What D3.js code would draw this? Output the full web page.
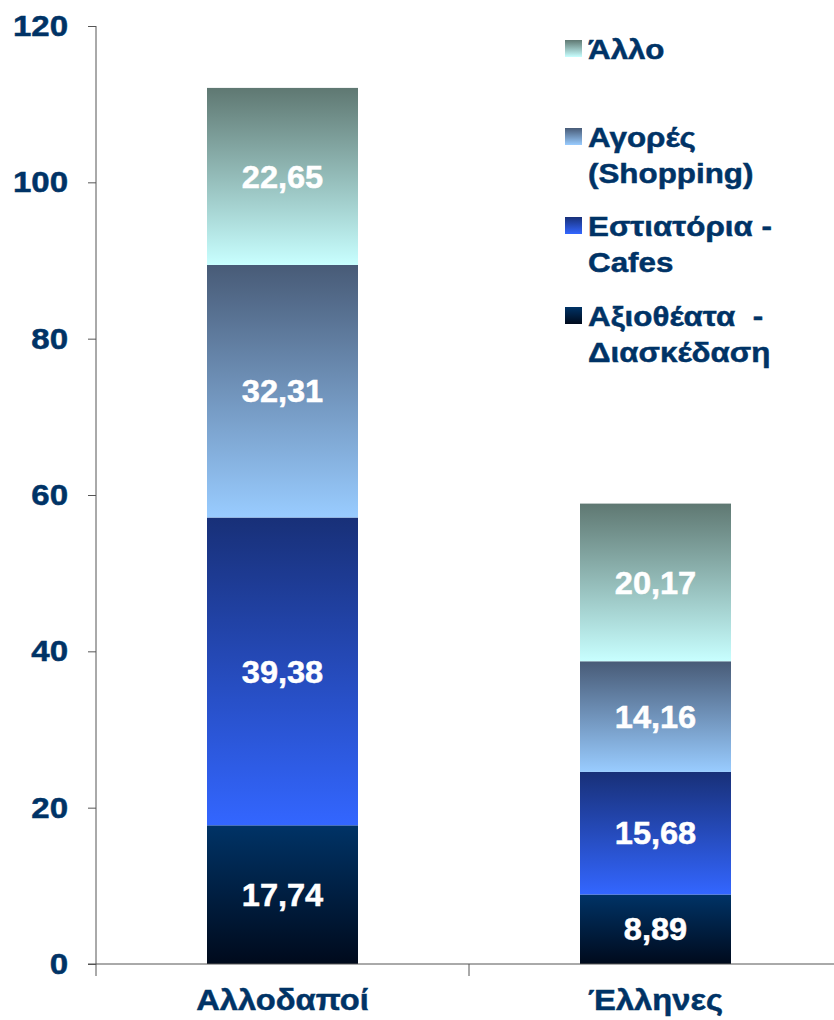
<!DOCTYPE html>
<html><head><meta charset="utf-8">
<script src="https://cdn.jsdelivr.net/npm/d3@7"></script>
<style>body{margin:0;background:#fff;} text{font-family:"Liberation Sans",Arial,sans-serif;font-weight:bold;}</style>
</head><body>
<svg id="c" width="834" height="1020"></svg>
<script>
const categories = ["Αλλοδαποί", "Έλληνες"];
const seriesNames = ["Αξιοθέατα  - Διασκέδαση", "Εστιατόρια - Cafes", "Αγορές (Shopping)", "Άλλο"];
const seriesValues = [
  [17.74, 8.89],
  [39.38, 15.68],
  [32.31, 14.16],
  [22.65, 20.17]
];
const legendLines = [["Αξιοθέατα  -", "Διασκέδαση"], ["Εστιατόρια -", "Cafes"], ["Αγορές", "(Shopping)"], ["Άλλο"]];
const yTicks = [0, 20, 40, 60, 80, 100, 120];
const gradTop = ["#003366", "#183078", "#485b77", "#5f7872"];
const gradBottom = ["#000a1c", "#3366ff", "#99ccff", "#c8ffff"];

const svg = d3.select("#c");
const textColor = "#003366";
const x0 = 96, x1 = 842, yTop = 26, yBot = 964;
const y = d3.scaleLinear().domain([0, 120]).range([yBot, yTop]);
const x = d3.scaleBand().domain(categories).range([x0, x1]).paddingInner(0).paddingOuter(0);
const barW = 151;

// text placed with horizontal stretch
function stretchText(sel, px, py, sx, str) {
  return sel.append("text")
    .attr("transform", `translate(${px},${py}) scale(${sx},1)`)
    .text(str);
}

const defs = svg.append("defs");
seriesNames.forEach((s, i) => {
  const g = defs.append("linearGradient").attr("id", "g" + i)
    .attr("x1", 0).attr("y1", 0).attr("x2", 0).attr("y2", 1);
  g.append("stop").attr("offset", "0%").attr("stop-color", gradTop[i]);
  g.append("stop").attr("offset", "100%").attr("stop-color", gradBottom[i]);
});

const rows = categories.map((c, j) => {
  const o = {cat: c};
  seriesNames.forEach((s, i) => o[s] = seriesValues[i][j]);
  return o;
});
const stack = d3.stack().keys(seriesNames)(rows);

stack.forEach((layer, i) => {
  const g = svg.append("g");
  layer.forEach(d => {
    const cx = x(d.data.cat) + x.bandwidth() / 2;
    g.append("rect")
      .attr("x", cx - barW / 2).attr("width", barW)
      .attr("y", y(d[1])).attr("height", y(d[0]) - y(d[1]))
      .attr("fill", "url(#g" + i + ")");
    stretchText(g, cx, (y(d[0]) + y(d[1])) / 2, 1.05, d3.format(".2f")(d[1] - d[0]).replace(".", ","))
      .attr("dy", "0.36em")
      .attr("text-anchor", "middle").attr("fill", "#fff")
      .attr("stroke", "#fff").attr("stroke-width", 0.5)
      .attr("font-size", 31);
  });
});

// y axis
const yAxis = d3.axisLeft(y).tickValues(yTicks).tickSize(8).tickPadding(20).tickFormat(d3.format("d"));
const ya = svg.append("g").attr("transform", `translate(${x0},0)`).call(yAxis);
ya.select(".domain").attr("stroke", "#555").attr("d", `M0,${yTop}V${yBot}`);
ya.selectAll(".tick line").attr("stroke", "#555");
ya.selectAll(".tick text").each(function() {
  const t = d3.select(this);
  t.attr("x", null).attr("transform", `translate(-28,0) scale(1.1,1)`);
}).attr("fill", textColor).attr("font-size", 30)
  .attr("stroke", textColor).attr("stroke-width", 0.5)
  .attr("font-family", "Liberation Sans, Arial, sans-serif").attr("font-weight", "bold");

// x axis
const xa = svg.append("g").attr("transform", `translate(0,${yBot})`);
xa.append("line").attr("x1", x0 - 8).attr("x2", 834).attr("y1", 0).attr("y2", 0).attr("stroke", "#555");
[x0, x0 + x.bandwidth(), x1].forEach(t => {
  xa.append("line").attr("x1", t).attr("x2", t).attr("y1", 0).attr("y2", 12).attr("stroke", "#555");
});
categories.forEach(c => {
  stretchText(xa, x(c) + x.bandwidth() / 2, 46, 1.09, c)
    .attr("text-anchor", "middle")
    .attr("fill", textColor).attr("stroke", textColor).attr("stroke-width", 0.5)
    .attr("font-size", 30);
});

// legend
const legendTops = [307, 217, 128, 40];
seriesNames.forEach((s, i) => {
  const top = legendTops[i];
  svg.append("rect").attr("x", 565).attr("y", top).attr("width", 17).attr("height", 17)
    .attr("fill", "url(#g" + i + ")");
  legendLines[i].forEach((ln, k) => {
    stretchText(svg, 588, top + 19 + k * 36, 1.12, ln)
      .attr("fill", textColor).attr("stroke", textColor).attr("stroke-width", 0.5)
      .attr("font-size", 28)
      .style("white-space", "pre");
  });
});
</script>
</body></html>
